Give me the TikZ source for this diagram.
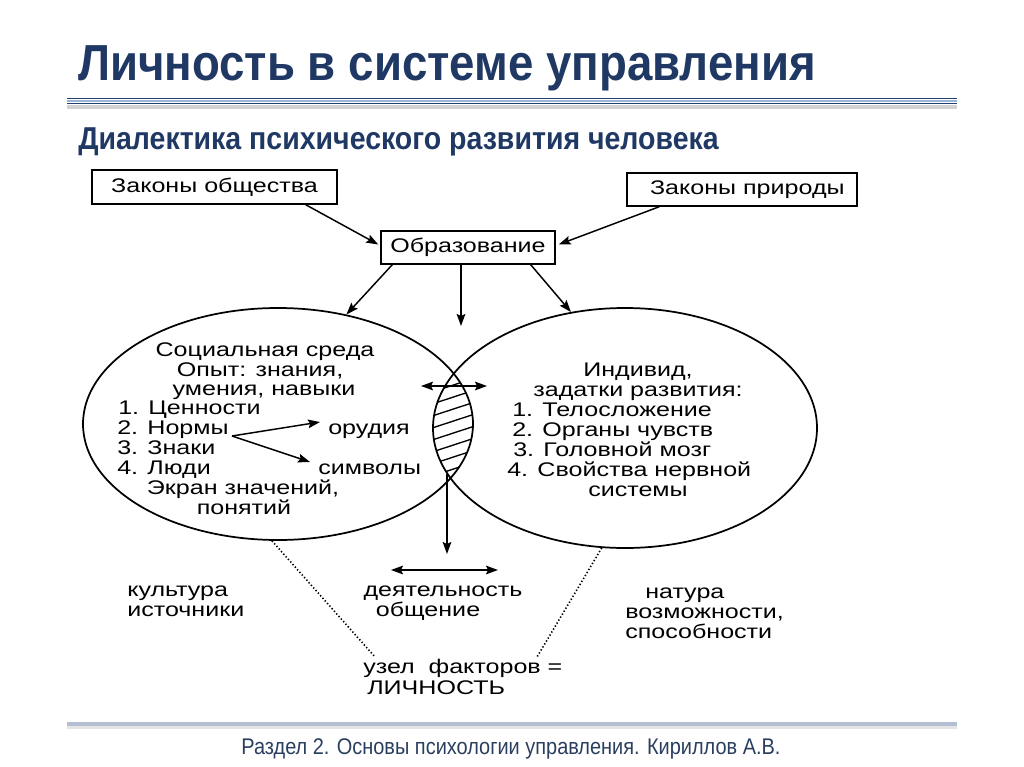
\documentclass[tikz,border=0pt]{standalone}
\usepackage{fontspec}
\setmainfont{Liberation Sans}
\newfontfamily\dg[FakeStretch=1.27]{Liberation Sans}
\newfontfamily\hd[FakeStretch=0.9]{Liberation Sans}
\newfontfamily\ft[FakeStretch=0.88]{Liberation Sans}
\usetikzlibrary{arrows.meta,shapes.geometric,calc}
\definecolor{navy}{HTML}{1F3864}
\definecolor{ruleblue}{HTML}{9BB5D9}
\definecolor{rulenavy}{HTML}{22406E}
\definecolor{footc}{HTML}{2A3F5F}
\definecolor{footrule}{HTML}{B4BFD3}
\begin{document}
\begin{tikzpicture}[x=0.75pt,y=-0.75pt,
  dgf/.style={font=\dg\fontsize{14.8}{18}\selectfont},
  box/.style={draw,line width=1.1pt,inner sep=0,dgf},
  tc/.style={inner sep=0,anchor=base,dgf},
  tl/.style={inner sep=0,anchor=base west,dgf},
  tip/.style={-{Stealth[length=9pt,width=6.5pt,inset=1.5pt]}},
  arr/.style={line width=1.1pt,tip},
  darr/.style={line width=1.1pt,{Stealth[length=9pt,width=6.5pt,inset=1.5pt]}-{Stealth[length=9pt,width=6.5pt,inset=1.5pt]}},
  ell/.style={draw,ellipse,line width=1.3pt,inner sep=0},
  dots/.style={line width=1.2pt,dash pattern=on 1pt off 1.6pt}
]
\useasboundingbox (0,0) rectangle (1024,767);
% header
\node[inner sep=0,anchor=base west,text=navy,font=\hd\bfseries\fontsize{38}{44}\selectfont] (title) at (78,80) {Личность в системе управления};
\draw[gray!35,line width=2.5pt] (67,107) -- (957,107);
\draw[rulenavy,line width=1.3pt] (67,98.5) -- (957,98.5);
\draw[ruleblue,line width=2pt] (67,101) -- (957,101);
\draw[rulenavy,line width=1.3pt] (67,103.5) -- (957,103.5);
\node[inner sep=0,anchor=base west,text=navy,font=\hd\bfseries\fontsize{23.75}{27}\selectfont] (sub) at (78,149) {Диалектика психического развития человека};
% footer
\draw[gray!20,line width=2.5pt] (67,727) -- (957,727);
\draw[footrule,line width=2.5pt] (67,724) -- (957,724);
\node[inner sep=0,anchor=base,text=footc,font=\ft\fontsize{17}{20}\selectfont] (foot) at (511,754) {Раздел 2. Основы психологии управления. Кириллов А.В.};
% boxes
\node[box,minimum width=183.75pt,minimum height=25.5pt] (zo) at (214.5,187) {Законы общества};
\node[box,minimum width=172.5pt,minimum height=24.75pt] (zp) at (742,189.5) {\hspace*{8pt}Законы природы};
\node[box,minimum width=130.5pt,minimum height=24.75pt] (obr) at (468,247.5) {Образование};
% ellipses
\node[ell,minimum width=292.5pt,minimum height=174pt] (L) at (278,424) {};
\node[ell,minimum width=288pt,minimum height=180pt] (R) at (625,428) {};
% hatching of the lens
\begin{scope}
  \clip (278,424) ellipse [x radius=195,y radius=116];
  \clip (625,428) ellipse [x radius=192,y radius=120];
  \foreach \yy in {384,396,...,496} {
    \draw[line width=1pt] (420,\yy) -- (490,\yy-23);
  }
\end{scope}
% arrows from laws
\draw[arr] ($(zo.south east)+(-32,0)$) -- ($(obr.west)+(-2,-3)$);
\draw[arr] ($(zp.south west)+(33,0)$) -- ($(obr.east)+(3,-3)$);
% arrows from education
\coordinate (vdown) at (461,326);
\draw[arr] ($(obr.south west)+(12,0)$) -- (L.58.8);
\draw[line width=1.1pt,tip] (obr.south -| vdown) -- (vdown);
\draw[arr] ($(obr.south east)+(-25,0)$) -- (R.115.8);
% lens arrows
\coordinate (hl) at (421,386);
\coordinate (hr) at (487,386);
\draw[darr] (hl) -- (hr);
\coordinate (lensb) at (447,474);
\coordinate (vend) at (447,554);
\draw[arr] (lensb) -- (vend);
\coordinate (bl) at (391,570);
\coordinate (br) at (498,570);
\draw[darr] (bl) -- (br);
% left ellipse text
\node[tc] (s1) at (265,356) {Социальная среда};
\node[tc] (s2) at (260,376) {Опыт: знания,};
\node[tc] (s3) at (264,395) {умения, навыки};
\node[tl] (s4) at (118,414) {1. Ценности};
\node[tl] (s5) at (117,434) {2. Нормы};
\node[tl] (s6) at (117,454) {3. Знаки};
\node[tl] (s7) at (117,474) {4. Люди};
\node[tl] (or) at (328,434) {орудия};
\node[tl] (sy) at (318,474) {символы};
\node[tc] (s8) at (243,494) {Экран значений,};
\node[tc] (s9) at (244,514) {понятий};
\coordinate (nf) at (232,436);
\draw[arr] (nf) -- ($(or.base west)+(-8,-12)$);
\draw[arr] (nf) -- ($(sy.base west)+(-8,-12)$);
% right ellipse text
\node[tc] (r1) at (638,376) {Индивид,};
\node[tc] (r2) at (638,396) {задатки развития:};
\node[tl] (r3) at (512,416) {1. Телосложение};
\node[tl] (r4) at (512,436) {2. Органы чувств};
\node[tl] (r5) at (513,456) {3. Головной мозг};
\node[tl] (r6) at (507,476) {4. Свойства нервной};
\node[tc] (r7) at (638,496) {системы};
% bottom texts
\node[tl] (b1) at (127,596) {культура};
\node[tl] (b2) at (127,616) {источники};
\node[tc] (b3) at (443,596) {деятельность};
\node[tc] (b4) at (428,616) {общение};
\node[tl] (b5) at (645,598) {натура};
\node[tl] (b6) at (625,618) {возможности,};
\node[tl] (b7) at (625,638) {способности};
\node[tl] (b8) at (363,673) {узел\ \ факторов =};
\node[tl] (b9) at (367,694) {ЛИЧНОСТЬ};
% dotted lines
\coordinate (dl) at (375,657);
\coordinate (dr) at (537,657);
\draw[dots] (L.267) -- (dl);
\draw[dots] (R.259.5) -- (dr);
\end{tikzpicture}
\end{document}
